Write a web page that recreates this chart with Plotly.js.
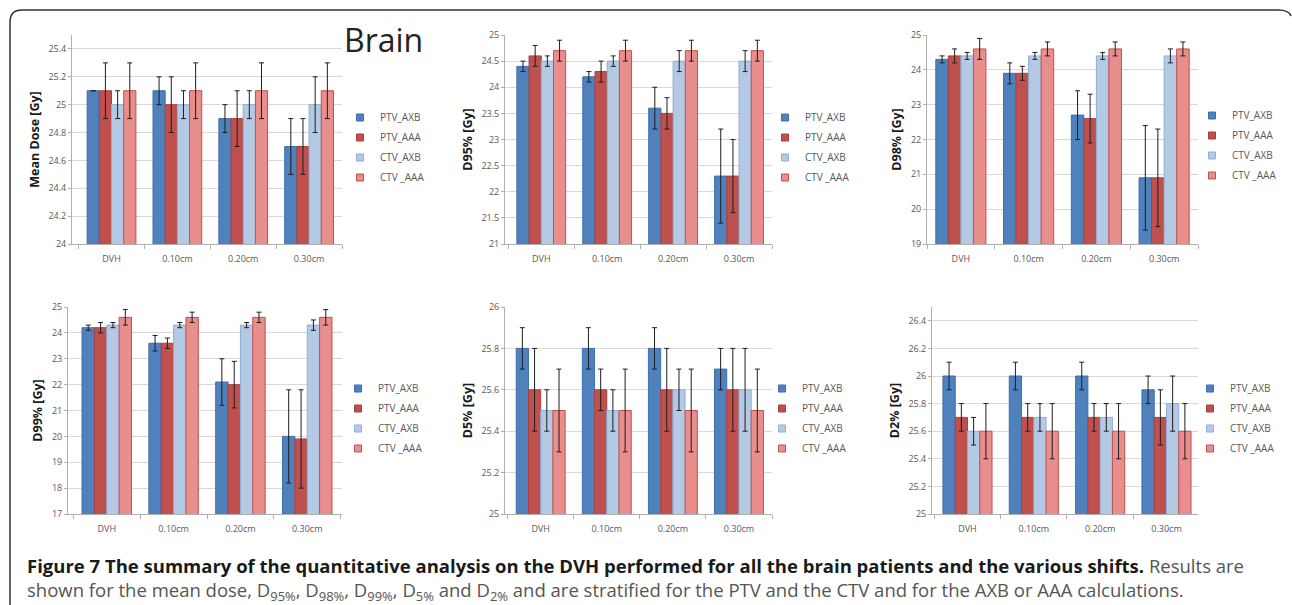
<!DOCTYPE html>
<html>
<head>
<meta charset="utf-8">
<script src="https://cdn.plot.ly/plotly-3.0.1.min.js"></script>
<style>
  html, body { margin: 0; padding: 0; background: #ffffff; }
  #chart { width: 1292px; height: 605px; }
</style>
</head>
<body>
<div id="chart"></div>
<script>
// ---------- DATA ----------
const categories = ['DVH', '0.10cm', '0.20cm', '0.30cm'];
const seriesNames = ['PTV_AXB', 'PTV_AAA', 'CTV_AXB', 'CTV _AAA'];

// rows: PTV_AXB, PTV_AAA, CTV_AXB, CTV_AAA ; columns: categories
const meanDose    = [[25.1, 25.1, 24.9, 24.7], [25.1, 25.0, 24.9, 24.7], [25.0, 25.0, 25.0, 25.0], [25.1, 25.1, 25.1, 25.1]];
const meanDoseErr = [[0.0, 0.1, 0.1, 0.2],     [0.2, 0.2, 0.2, 0.2],     [0.1, 0.1, 0.1, 0.2],     [0.2, 0.2, 0.2, 0.2]];

const d95    = [[24.4, 24.2, 23.6, 22.3], [24.6, 24.3, 23.5, 22.3], [24.5, 24.5, 24.5, 24.5], [24.7, 24.7, 24.7, 24.7]];
const d95Err = [[0.1, 0.1, 0.4, 0.9],     [0.2, 0.2, 0.3, 0.7],     [0.1, 0.1, 0.2, 0.2],     [0.2, 0.2, 0.2, 0.2]];

const d98    = [[24.3, 23.9, 22.7, 20.9], [24.4, 23.9, 22.6, 20.9], [24.4, 24.4, 24.4, 24.4], [24.6, 24.6, 24.6, 24.6]];
const d98Err = [[0.1, 0.3, 0.7, 1.5],     [0.2, 0.2, 0.7, 1.4],     [0.1, 0.1, 0.1, 0.2],     [0.3, 0.2, 0.2, 0.2]];

const d99    = [[24.2, 23.6, 22.1, 20.0], [24.2, 23.6, 22.0, 19.9], [24.3, 24.3, 24.3, 24.3], [24.6, 24.6, 24.6, 24.6]];
const d99Err = [[0.1, 0.3, 0.9, 1.8],     [0.2, 0.2, 0.9, 1.9],     [0.1, 0.1, 0.1, 0.2],     [0.3, 0.2, 0.2, 0.3]];

const d5    = [[25.8, 25.8, 25.8, 25.7], [25.6, 25.6, 25.6, 25.6], [25.5, 25.5, 25.6, 25.6], [25.5, 25.5, 25.5, 25.5]];
const d5Err = [[0.1, 0.1, 0.1, 0.1],     [0.2, 0.1, 0.2, 0.2],     [0.1, 0.1, 0.1, 0.2],     [0.2, 0.2, 0.2, 0.2]];

const d2    = [[26.0, 26.0, 26.0, 25.9], [25.7, 25.7, 25.7, 25.7], [25.6, 25.7, 25.7, 25.8], [25.6, 25.6, 25.6, 25.6]];
const d2Err = [[0.1, 0.1, 0.1, 0.1],     [0.1, 0.1, 0.1, 0.2],     [0.1, 0.1, 0.1, 0.2],     [0.2, 0.2, 0.2, 0.2]];

const yTitles = ['Mean Dose [Gy]', 'D95% [Gy]', 'D98% [Gy]', 'D99% [Gy]', 'D5% [Gy]', 'D2% [Gy]'];
const yRanges = [[24, 25.5], [21, 25], [19, 25], [17, 25], [25, 26], [25, 26.5]];
const yDticks = [0.2, 0.5, 1, 1, 0.2, 0.2];

// ---------- STYLE / LAYOUT ----------
const W = 1292, H = 605;
const fillColors = ['#4f81bd', '#c0504d', '#b4c9e4', '#e88e8c'];
const lineColors = ['#3d6eae', '#a9403d', '#8eaed6', '#c0504d'];

// panel boxes in pixels: [left, right, top, bottom]
const boxes = [
  [72, 342, 35, 244], [505, 772, 35, 244], [927, 1198, 35, 244],
  [68, 342, 307, 514], [505, 772, 307, 514], [932, 1198, 307, 514]
];
const xRanges = [[-0.6, 3.5], [-0.55, 3.5], [-0.5, 3.5], [-0.58, 3.52], [-0.54, 3.5], [-0.535, 3.475]];
const legendPos = [[340, 103], [765, 103], [1192, 101], [338, 374], [762, 374], [1190, 374]];

const panels = [
  [meanDose, meanDoseErr], [d95, d95Err], [d98, d98Err],
  [d99, d99Err], [d5, d5Err], [d2, d2Err]
];

const tickFont = { family: 'Open Sans, sans-serif', size: 9, color: '#595959' };
const traces = [];
const layout = {
  width: W, height: H,
  margin: { l: 0, r: 0, t: 0, b: 0 },
  paper_bgcolor: '#ffffff', plot_bgcolor: 'rgba(0,0,0,0)',
  barmode: 'group', bargap: 0.26, bargroupgap: 0,
  showlegend: true,
  annotations: [], shapes: []
};

panels.forEach((p, i) => {
  const n = i + 1;
  const sfx = n === 1 ? '' : String(n);
  const xa = 'x' + sfx, ya = 'y' + sfx;
  const legendId = 'legend' + sfx;
  const [vals, errs] = p;
  vals.forEach((v, s) => {
    traces.push({
      type: 'bar', x: categories, y: v, name: seriesNames[s],
      xaxis: xa, yaxis: ya, showlegend: false,
      marker: { color: fillColors[s], line: { color: lineColors[s], width: 1 } },
      error_y: { type: 'data', array: errs[s], visible: true, color: '#1e1e1e', thickness: 1, width: 2.5 },
      hoverinfo: 'x+y+name'
    });
  });
  // legend entries (small square keys like the original)
  seriesNames.forEach((nm, s) => {
    traces.push({
      type: 'scatter', mode: 'markers', x: [null], y: [null], name: nm,
      xaxis: xa, yaxis: ya, legend: legendId, showlegend: true,
      legendgroup: 'p' + n + 's' + s,
      marker: { symbol: 'square', size: 7, color: fillColors[s], line: { color: lineColors[s], width: 1 } }
    });
  });
  const b = boxes[i];
  layout['xaxis' + sfx] = {
    domain: [b[0] / W, b[1] / W], anchor: ya,
    type: 'category', range: xRanges[i], showgrid: false, showline: true, linecolor: '#b0b0b0', linewidth: 1,
    ticks: 'outside', tickson: 'boundaries', ticklen: 4, tickcolor: '#b0b0b0',
    ticklabelstandoff: 6,
    tickfont: tickFont, fixedrange: true
  };
  layout['yaxis' + sfx] = {
    domain: [1 - b[3] / H, 1 - b[2] / H], anchor: xa,
    range: yRanges[i], dtick: yDticks[i], tick0: yRanges[i][0],
    showgrid: true, gridcolor: '#d9d9d9', gridwidth: 1, zeroline: false,
    showline: true, linecolor: '#b0b0b0', linewidth: 1,
    ticks: 'outside', ticklen: 3, tickcolor: '#b0b0b0',
    tickfont: tickFont, fixedrange: true,
    title: { text: '<b>' + yTitles[i] + '</b>', font: { family: 'Open Sans, sans-serif', size: 12.5, color: '#1a1a1a' }, standoff: 6 }
  };
  const lp = legendPos[i];
  layout[legendId] = {
    x: lp[0] / W, y: 1 - lp[1] / H, xanchor: 'left', yanchor: 'top',
    bgcolor: 'rgba(0,0,0,0)', borderwidth: 0,
    font: { family: 'Open Sans, sans-serif', size: 10, color: '#595959' },
    itemwidth: 30, traceorder: 'grouped', tracegroupgap: 1
  };
});

// "Brain" label
layout.annotations.push({
  xref: 'paper', yref: 'paper', x: 383 / W, y: 1 - 39 / H, xanchor: 'center', yanchor: 'middle',
  text: 'Brain', showarrow: false, font: { family: 'Open Sans, sans-serif', size: 32, color: '#222222' }
});

// caption (two lines in one text block)
layout.annotations.push({
  xref: 'paper', yref: 'paper', x: 25 / W, y: 1 - 579 / H, xanchor: 'left', yanchor: 'middle', align: 'left',
  text: '<b>Figure 7 The summary of the quantitative analysis on the DVH performed for all the brain patients and the various shifts.</b> <span style="color:#555555">Results are</span><br>' +
        '<span style="color:#555555">shown for the mean dose, D<sub>95%</sub>, D<sub>98%</sub>, D<sub>99%</sub>, D<sub>5%</sub> and D<sub>2%</sub> and are stratified for the PTV and the CTV and for the AXB or AAA calculations.</span>',
  showarrow: false, font: { family: 'Open Sans, sans-serif', size: 18.5, color: '#1a1a1a' }
});

// frame (left + top edges with rounded corners)
function px(x, y) { return (x / W).toFixed(5) + ',' + (1 - y / H).toFixed(5); }
layout.shapes.push({
  type: 'path', xref: 'paper', yref: 'paper',
  path: 'M' + px(10, 605) + ' L' + px(10, 22) + ' Q' + px(10, 10) + ' ' + px(22, 10) +
        ' L' + px(1278, 10) + ' Q' + px(1289, 10) + ' ' + px(1291, 16),
  line: { color: '#333333', width: 1.5 }
});

Plotly.newPlot('chart', traces, layout, { displayModeBar: false, staticPlot: true });
</script>
</body>
</html>
